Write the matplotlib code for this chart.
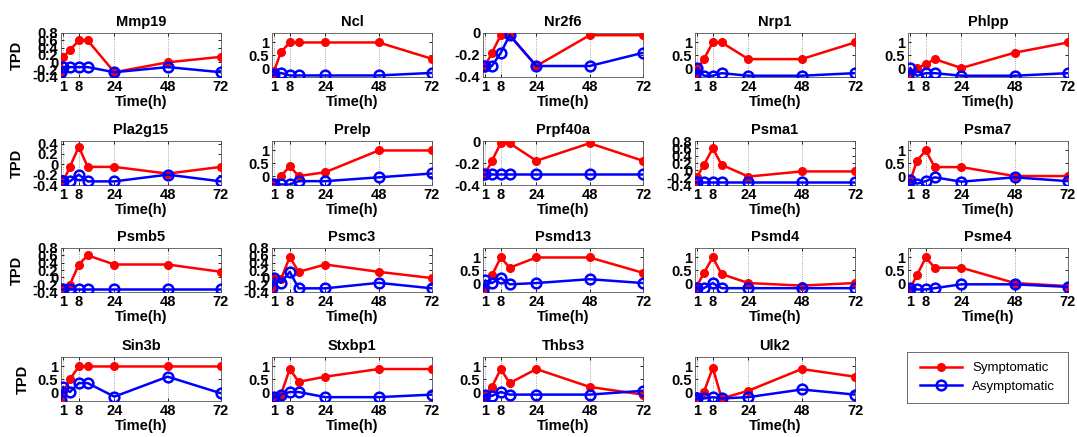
import matplotlib
matplotlib.use("Agg")
import matplotlib.pyplot as plt
from matplotlib.lines import Line2D

plt.rcParams["font.family"] = ["Liberation Sans", "DejaVu Sans"]
plt.rcParams["font.weight"] = "bold"

# time points (h)
hours = [0, 1, 4, 8, 12, 24, 48, 72]
xticks = [1, 8, 24, 48, 72]

genes = ["Mmp19", "Ncl", "Nr2f6", "Nrp1", "Phlpp",
         "Pla2g15", "Prelp", "Prpf40a", "Psma1", "Psma7",
         "Psmb5", "Psmc3", "Psmd13", "Psmd4", "Psme4",
         "Sin3b", "Stxbp1", "Thbs3", "Ulk2"]

symptomatic = [
    [-0.27, 0.15, 0.33, 0.6, 0.6, -0.27, 0.0, 0.15],
    [-0.3, -0.1, 0.62, 1.0, 1.0, 1.0, 1.0, 0.36],
    [-0.3, -0.3, -0.18, -0.02, -0.02, -0.3, -0.02, -0.02],
    [-0.3, -0.03, 0.35, 1.0, 1.0, 0.35, 0.35, 1.0],
    [-0.3, -0.2, 0.0, 0.15, 0.35, 0.0, 0.6, 1.0],
    [-0.33, -0.33, -0.05, 0.34, -0.05, -0.05, -0.18, -0.05],
    [-0.3, -0.3, 0.0, 0.38, 0.0, 0.15, 1.0, 1.0],
    [-0.3, -0.3, -0.18, -0.02, -0.02, -0.18, -0.02, -0.18],
    [-0.32, -0.17, 0.15, 0.6, 0.15, -0.17, -0.03, -0.03],
    [-0.3, -0.2, 0.6, 1.0, 0.35, 0.35, 0.0, 0.0],
    [-0.33, -0.33, -0.2, 0.35, 0.6, 0.35, 0.35, 0.15],
    [-0.3, 0.0, -0.05, 0.55, 0.15, 0.35, 0.15, -0.02],
    [-0.3, -0.2, 0.3, 1.0, 0.6, 1.0, 1.0, 0.4],
    [-0.3, -0.1, 0.4, 1.0, 0.35, 0.0, -0.1, 0.0],
    [-0.3, -0.2, 0.3, 1.0, 0.6, 0.6, 0.0, -0.12],
    [-0.3, 0.0, 0.5, 1.0, 1.0, 1.0, 1.0, 1.0],
    [-0.3, -0.2, -0.1, 0.9, 0.4, 0.6, 0.9, 0.9],
    [-0.3, -0.1, 0.2, 0.9, 0.35, 0.9, 0.2, -0.1],
    [-0.3, -0.2, 0.0, 0.95, -0.25, 0.05, 0.9, 0.6],
]

asymptomatic = [
    [-0.27, -0.13, -0.13, -0.13, -0.13, -0.27, -0.13, -0.27],
    [-0.3, -0.25, -0.19, -0.29, -0.29, -0.29, -0.29, -0.19],
    [-0.3, -0.3, -0.3, -0.18, -0.02, -0.3, -0.3, -0.18],
    [-0.3, 0.0, -0.3, -0.3, -0.2, -0.3, -0.3, -0.2],
    [-0.3, 0.0, -0.3, -0.2, -0.2, -0.3, -0.3, -0.2],
    [-0.33, -0.33, -0.33, -0.2, -0.33, -0.33, -0.2, -0.33],
    [-0.33, -0.33, -0.33, -0.33, -0.2, -0.2, -0.05, 0.1],
    [-0.3, -0.3, -0.3, -0.3, -0.3, -0.3, -0.3, -0.3],
    [-0.32, -0.32, -0.32, -0.32, -0.32, -0.32, -0.32, -0.32],
    [-0.3, -0.15, -0.3, -0.2, -0.05, -0.22, -0.05, -0.2],
    [-0.33, -0.33, -0.33, -0.33, -0.33, -0.33, -0.33, -0.33],
    [-0.3, -0.02, -0.15, 0.15, -0.3, -0.3, -0.15, -0.3],
    [-0.3, 0.1, 0.0, 0.2, -0.05, 0.0, 0.15, 0.0],
    [-0.3, -0.2, -0.2, 0.0, -0.2, -0.2, -0.2, -0.2],
    [-0.3, -0.2, -0.25, -0.25, -0.2, -0.05, -0.05, -0.15],
    [-0.3, 0.2, 0.0, 0.35, 0.35, -0.18, 0.6, -0.05],
    [-0.3, -0.2, -0.1, 0.0, 0.0, -0.2, -0.2, -0.1],
    [-0.3, -0.1, -0.15, 0.0, -0.1, -0.1, -0.1, 0.05],
    [-0.3, -0.25, -0.25, -0.2, -0.25, -0.2, 0.1, -0.1],
]

# y-axis style per gene: a = [-0.4, 0.8], b = [-0.4, 0], c = [-0.4, 0.4], d = 0/0.5/1
yscale = ["a", "d", "b", "d", "d",
          "c", "d", "b", "a", "d",
          "a", "a", "d", "d", "d",
          "d", "d", "d", "d"]

ylims = {"a": (-0.4, 0.8), "b": (-0.4, 0.0), "c": (-0.4, 0.45), "d": (-0.35, 1.37)}
yticks = {"a": [-0.4, -0.2, 0, 0.2, 0.4, 0.6, 0.8],
          "b": [-0.4, -0.2, 0],
          "c": [-0.4, -0.2, 0, 0.2, 0.4],
          "d": [0, 0.5, 1]}
ylabels = {"a": ["-0.4", "-0.2", "0", "0.2", "0.4", "0.6", "0.8"],
           "b": ["-0.4", "-0.2", "0"],
           "c": ["-0.4", "-0.2", "0", "0.2", "0.4"],
           "d": ["0", "0.5", "1"]}

W, H = 1077, 437
fig = plt.figure(figsize=(W / 100, H / 100), dpi=100)

col_left = [61, 272, 483, 695, 908]
row_top = [33, 141, 248, 357]
aw, ah = 160, 44

red = "#ff0000"
blue = "#0000ff"
fs = 10.5

for i, gene in enumerate(genes):
    r, c = divmod(i, 5)
    ax = fig.add_axes([col_left[c] / W, 1 - (row_top[r] + ah) / H, aw / W, ah / H])
    ax.plot(hours, symptomatic[i], color=red, lw=1.8, marker="o", ms=5.5,
            mfc=red, mec=red, zorder=3)
    ax.plot(hours, asymptomatic[i], color=blue, lw=1.8, marker="o", ms=7,
            mfc="none", mec=blue, mew=1.8, zorder=4)
    s = yscale[i]
    ax.set_xlim(0, 72)
    ax.set_ylim(*ylims[s])
    ax.set_xticks(xticks)
    ax.set_xticklabels([str(t) for t in xticks], fontsize=fs, fontweight="bold")
    ax.set_yticks(yticks[s])
    ax.set_yticklabels(ylabels[s], fontsize=fs, fontweight="bold")
    ax.tick_params(direction="in", length=2.5, width=0.6, top=True, right=True, pad=2)
    ax.xaxis.grid(True, linestyle=":", color="#888888", lw=0.6)
    for sp in ax.spines.values():
        sp.set_linewidth(0.6)
        sp.set_color("#555555")
    ax.set_title(gene, fontsize=fs, fontweight="bold", pad=5)
    ax.set_xlabel("Time(h)", fontsize=fs, fontweight="bold", labelpad=1)
    if c == 0:
        ax.set_ylabel("TPD", fontsize=fs, fontweight="bold", labelpad=6)

# legend box in the empty last slot
lax = fig.add_axes([907 / W, 1 - 403 / H, 161 / W, 51 / H])
lax.set_xticks([])
lax.set_yticks([])
for sp in lax.spines.values():
    sp.set_linewidth(0.6)
    sp.set_color("#555555")
handles = [
    Line2D([], [], color=red, lw=1.8, marker="o", ms=5.5, mfc=red, mec=red),
    Line2D([], [], color=blue, lw=1.8, marker="o", ms=7, mfc="none", mec=blue, mew=1.8),
]
lax.legend(handles, ["Symptomatic", "Asymptomatic"], loc="center", frameon=False,
           prop={"size": 9.5, "weight": "normal"}, handlelength=3.2, labelspacing=0.5)

fig.savefig("out.png", dpi=100)
